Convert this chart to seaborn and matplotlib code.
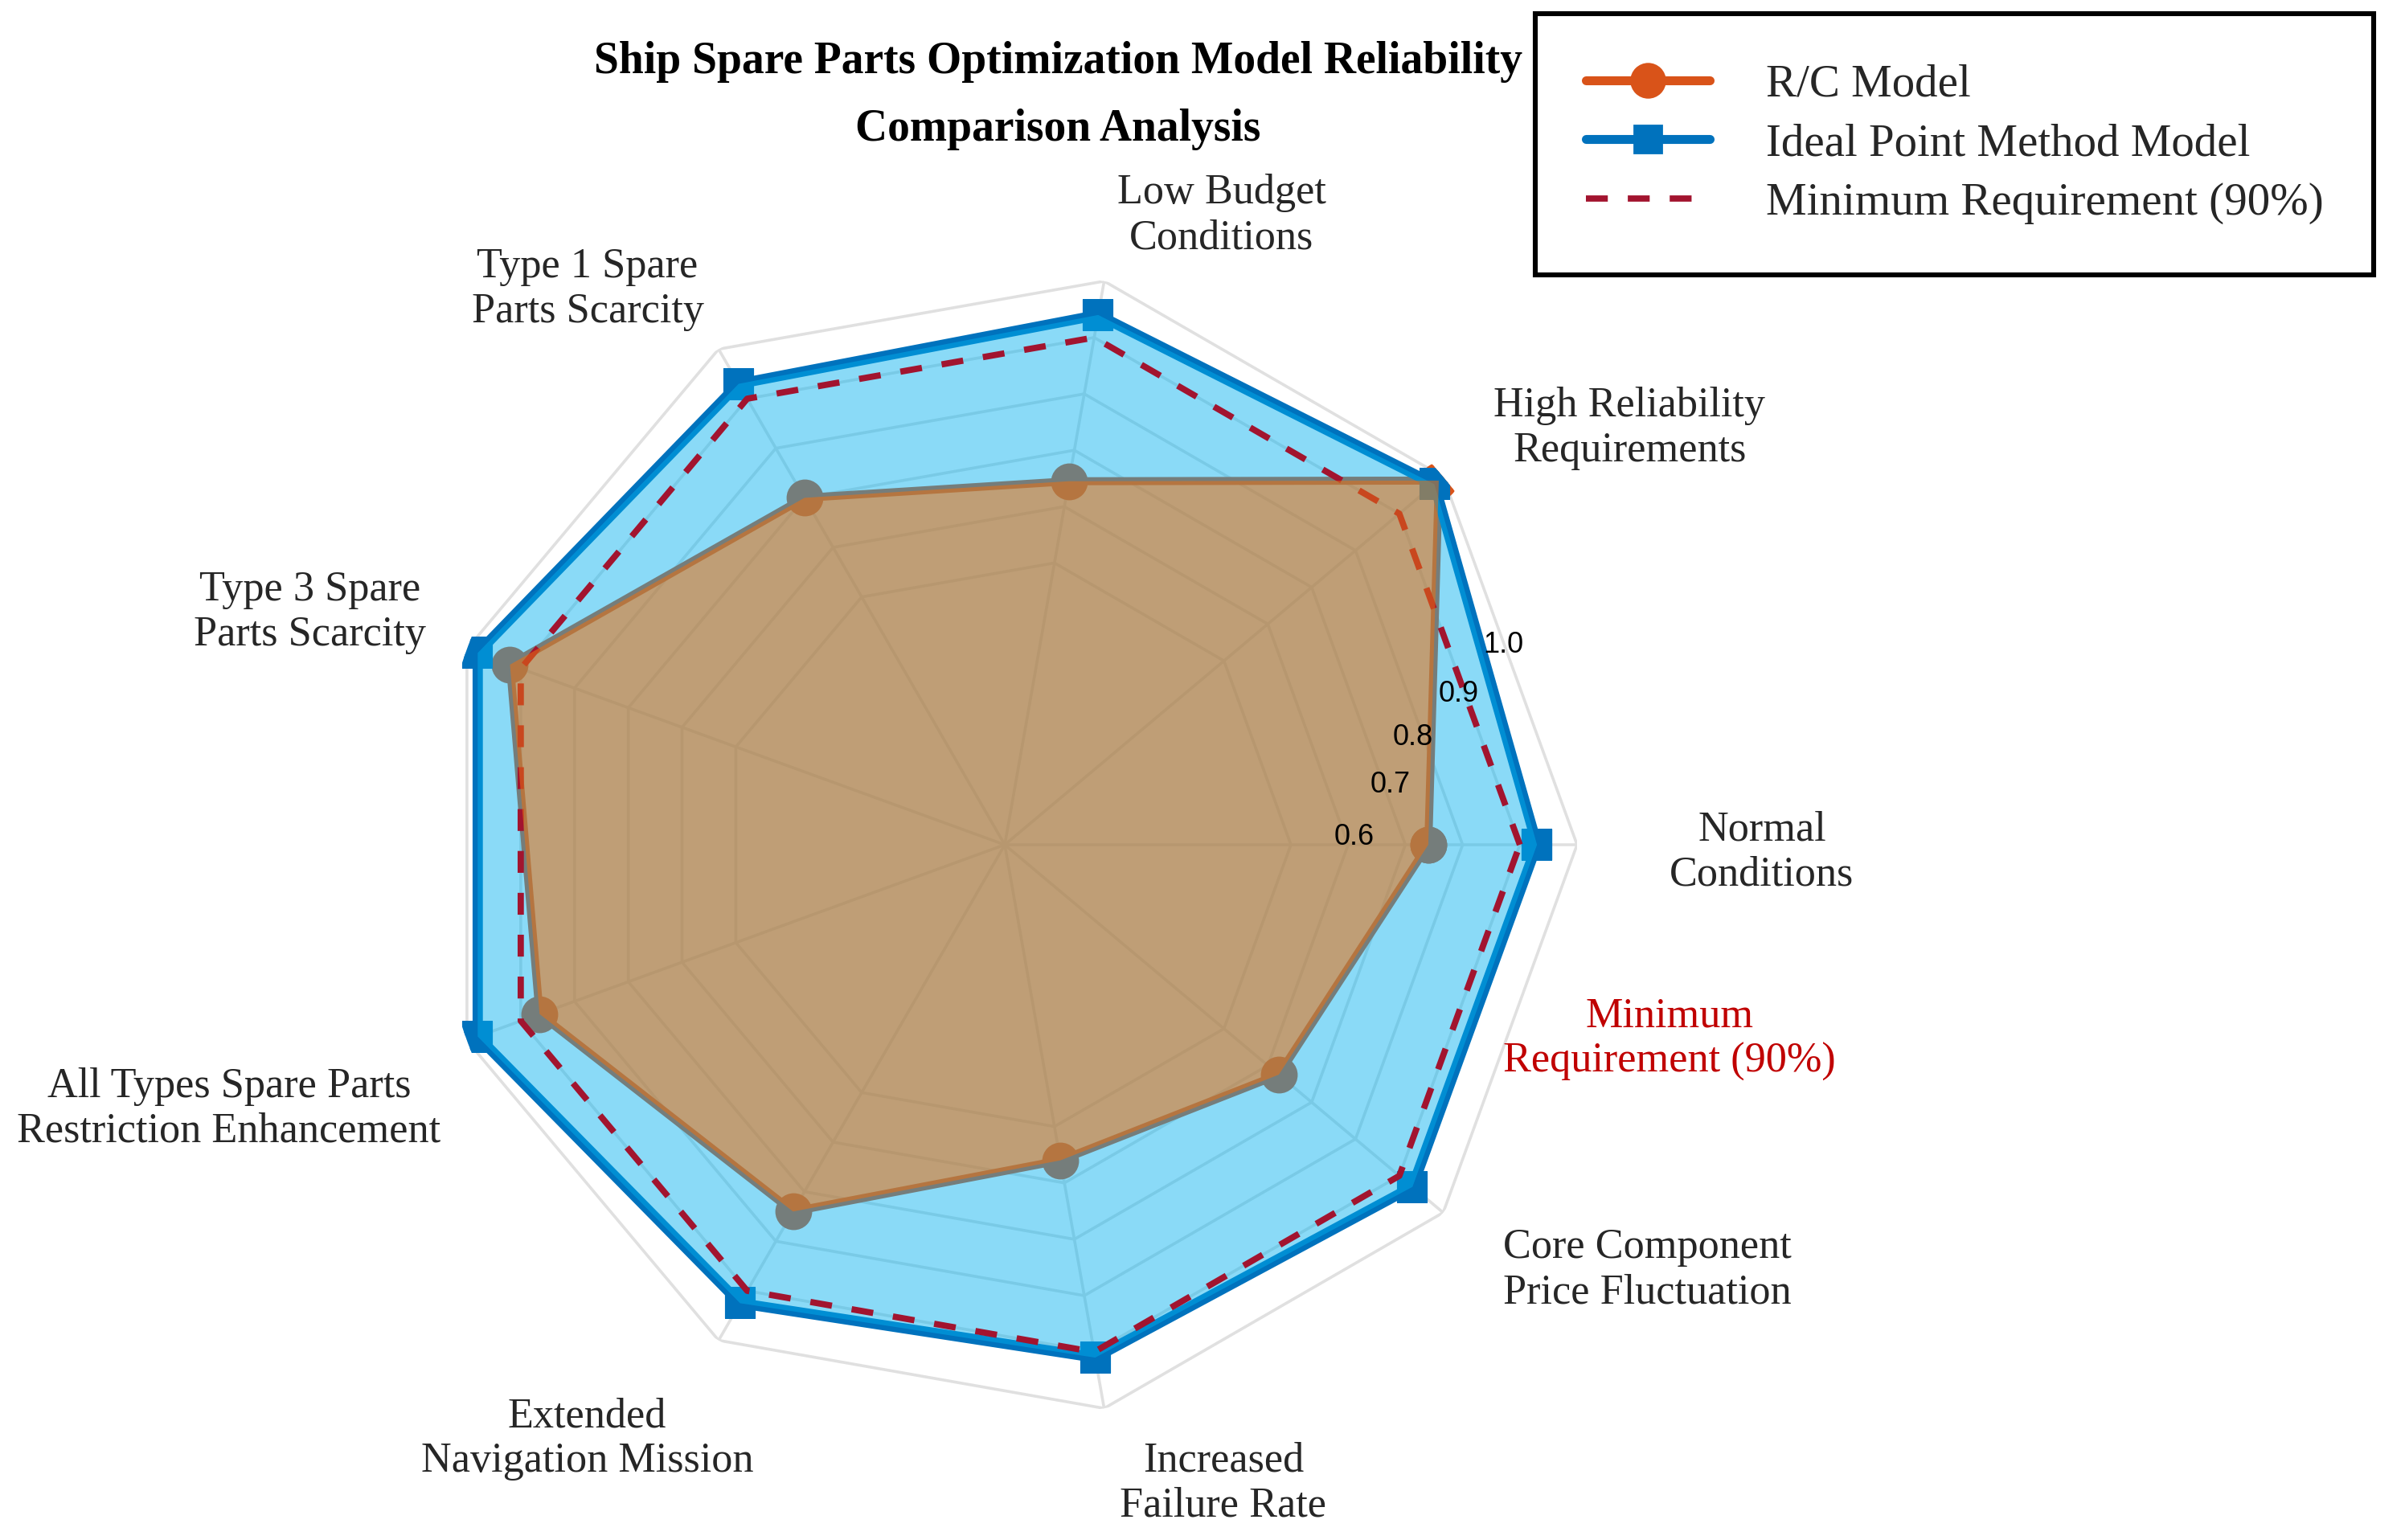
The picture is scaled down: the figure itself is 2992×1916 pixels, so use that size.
import numpy as np
import matplotlib
matplotlib.use("Agg")
import matplotlib.pyplot as plt
import seaborn as sns
from matplotlib.lines import Line2D

# 데이터
categories = ['Normal\nConditions', 'High Reliability\nRequirements', 'Low Budget\nConditions',
              'Type 1 Spare\nParts Scarcity', 'Type 3 Spare\nParts Scarcity',
              'All Types Spare Parts\nRestriction Enhancement', 'Extended\nNavigation Mission',
              'Increased\nFailure Rate', 'Core Component\nPrice Fluctuation']
rc_model = [0.74, 0.99, 0.645, 0.70, 0.92, 0.865, 0.74, 0.56, 0.625]
ideal_model = [0.93, 0.98, 0.94, 0.93, 0.98, 0.98, 0.925, 0.91, 0.93]
min_requirement = [0.90] * 9
r_ticks = [0.5, 0.6, 0.7, 0.8, 0.9, 1.0]
r_tick_labels = ['0.6', '0.7', '0.8', '0.9', '1.0']

# 라벨 위치 (각도 deg, 반지름)
label_pos = [(-0.6, 1.323), (33.7, 1.312), (71.0, 1.163), (126.9, 1.214), (161.5, 1.280),
             (198.8, 1.432), (234.9, 1.269), (288.9, 1.179), (326.5, 1.347)]
rtick_label_pos = [(1.2, 0.611), (8.8, 0.682), (14.7, 0.737), (18.4, 0.836), (21.8, 0.938)]

sns.set_theme(style='white')
plt.rcParams['font.family'] = ['Liberation Serif', 'DejaVu Serif']

RC_LINE = '#D95319'
RC_FILL = '#E97012'
IDEAL_LINE = '#0072BD'
IDEAL_FILL = '#00B0EF'
MIN_COLOR = '#A2142F'
GRID = '#E0E0E0'

n = len(categories)
angles = np.linspace(0, 2 * np.pi, n, endpoint=False)
ang_c = np.append(angles, 2 * np.pi)


def closed(v):
    return np.append(v, v[0])


fig = plt.figure(figsize=(14.96, 9.58), dpi=200)
ax = fig.add_axes([0.17981, 0.07985, 0.47594, 0.74322], projection='polar')
ax.set_ylim(0, 1.0)
ax.spines['polar'].set_visible(False)
ax.set_thetagrids(np.degrees(angles), [''] * n)
ax.set_yticks(r_ticks)
ax.set_yticklabels([])
ax.yaxis.grid(False)
ax.xaxis.grid(True, color=GRID, linewidth=1.3)
ax.set_axisbelow(True)

# 다각형 그리드
for rt in r_ticks:
    ax.plot(ang_c, [rt] * (n + 1), color=GRID, linewidth=1.3, zorder=1)

# 선 + 마커
sns.lineplot(x=ang_c, y=closed(rc_model), sort=False, estimator=None, ax=ax,
             color=RC_LINE, linewidth=3.6, marker='o', markersize=15,
             markeredgecolor=RC_LINE, markeredgewidth=1.5, zorder=2, legend=False)
sns.lineplot(x=ang_c, y=closed(ideal_model), sort=False, estimator=None, ax=ax,
             color=IDEAL_LINE, linewidth=4.6, marker='s', markersize=12.5,
             markeredgecolor=IDEAL_LINE, markeredgewidth=1.5, zorder=3, legend=False)
ax.lines[-1].set_solid_joinstyle('round')

ax.fill(ang_c, closed(ideal_model), color=IDEAL_FILL, alpha=0.46, linewidth=0, zorder=4)
sns.lineplot(x=ang_c, y=closed(min_requirement), sort=False, estimator=None, ax=ax,
             color=MIN_COLOR, linewidth=2.8, linestyle=(0, (3.5, 3.2)), zorder=5, legend=False)
ax.fill(ang_c, closed(rc_model), color=RC_FILL, alpha=0.56, linewidth=0, zorder=6)

ax.set_xlabel('')
ax.set_ylabel('')

# 반지름 눈금 라벨
for (a, r), t in zip(rtick_label_pos, r_tick_labels):
    ax.text(np.radians(a), r, t, ha='center', va='center', fontsize=13,
            family=['Liberation Sans', 'DejaVu Sans'], color='black', zorder=10)

# 카테고리 라벨
for (a, r), t in zip(label_pos, categories):
    ax.text(np.radians(a), r, t, ha='center', va='center', fontsize=18.8,
            color='#262626', linespacing=1.22, clip_on=False)

ax.text(np.radians(343.7), 1.21, 'Minimum\nRequirement (90%)', ha='center', va='center',
        fontsize=18.8, color='#C00000', linespacing=1.22, clip_on=False)

fig.text(0.440, 0.9379, 'Ship Spare Parts Optimization Model Reliability\nComparison Analysis',
         ha='center', va='center', fontsize=20, fontweight='bold', color='black', linespacing=1.8)

handles = [
    Line2D([], [], color=RC_LINE, linewidth=4, marker='o', markersize=15),
    Line2D([], [], color=IDEAL_LINE, linewidth=4, marker='s', markersize=12.5),
    Line2D([], [], color=MIN_COLOR, linewidth=2.8, linestyle=(0, (3.5, 3.2))),
]
leg = fig.legend(handles, ['R/C Model', 'Ideal Point Method Model', 'Minimum Requirement (90%)'],
                 loc='upper right', bbox_to_anchor=(0.987, 0.9911), fontsize=20.5,
                 borderpad=1.1, borderaxespad=0, handlelength=2.7, handletextpad=1.23,
                 labelspacing=0.38, fancybox=False, framealpha=1, edgecolor='black')
leg.get_frame().set_linewidth(2.2)

fig.savefig('out.png', dpi=200)
